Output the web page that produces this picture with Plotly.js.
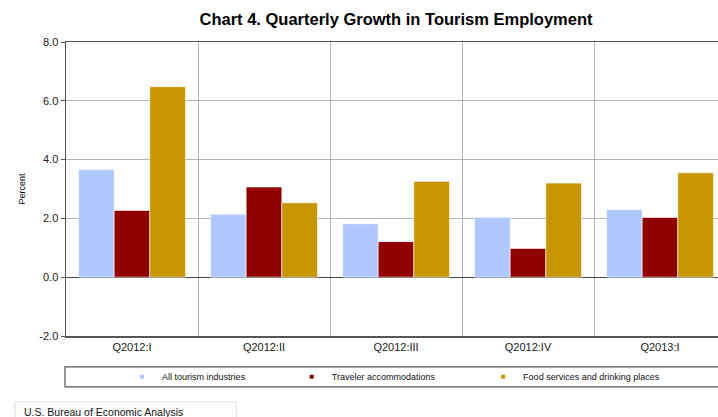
<!DOCTYPE html>
<html>
<head>
<meta charset="utf-8">
<script src="https://cdn.plot.ly/plotly-3.0.1.min.js"></script>
<style>
html,body{margin:0;padding:0;overflow:hidden;background:#fff;width:718px;height:417px;}
#chart{width:726px;height:417px;}
</style>
</head>
<body>
<div id="chart"></div>
<script>
const quarters = ["Q2012:I", "Q2012:II", "Q2012:III", "Q2012:IV", "Q2013:I"];
const seriesNames = ["All tourism industries", "Traveler accommodations", "Food services and drinking places"];
const allTourism = [3.66, 2.14, 1.82, 2.04, 2.30];
const travelerAccom = [2.27, 3.07, 1.21, 0.98, 2.03];
const foodServices = [6.48, 2.53, 3.26, 3.20, 3.55];
const colors = ["#b0c8ff", "#900000", "#c89400"];
const yTicks = [-2, 0, 2, 4, 6, 8];

const values = [allTourism, travelerAccom, foodServices];
const legendIds = ["legend", "legend2", "legend3"];
const traces = [];
values.forEach((v, i) => {
  traces.push({
    type: "bar", x: quarters, y: v, name: seriesNames[i],
    marker: {color: colors[i], line: {color: "rgba(255,255,255,0.6)", width: 1}},
    showlegend: false, hoverinfo: "x+y"
  });
});
values.forEach((v, i) => {
  traces.push({
    type: "scatter", mode: "markers", x: [null], y: [null], name: seriesNames[i],
    marker: {color: colors[i], symbol: "square", size: 4}, showlegend: true,
    legend: legendIds[i]
  });
});

const legendFont = {size: 9, family: "Liberation Sans, Arial, sans-serif", color: "#111"};
function mkLegend(x) {
  return {
    orientation: "h", x: x, xanchor: "left", y: -0.139, yanchor: "middle",
    font: legendFont, bgcolor: "rgba(0,0,0,0)", borderwidth: 0,
    itemclick: false, itemdoubleclick: false
  };
}

const layout = {
  width: 726, height: 417,
  margin: {l: 66, r: 0, t: 42, b: 81},
  paper_bgcolor: "#fff", plot_bgcolor: "#fff",
  font: {family: "Liberation Sans, Arial, sans-serif", color: "#222"},
  title: {
    text: "<b>Chart 4. Quarterly Growth in Tourism Employment</b>",
    font: {size: 16.5, color: "#000", family: "Liberation Sans, Arial, sans-serif"},
    x: 0.5, xref: "paper", y: 0.954, yanchor: "middle"
  },
  barmode: "group", bargap: 0.19, bargroupgap: 0,
  xaxis: {
    type: "category", tickson: "boundaries", showgrid: true, gridcolor: "#b4b4b4", gridwidth: 1,
    showline: true, linecolor: "#555", linewidth: 1.5, mirror: true,
    ticks: "", tickfont: {size: 11, color: "#222"}, fixedrange: true
  },
  yaxis: {
    range: [-2, 8], tickvals: yTicks, ticktext: yTicks.map(t => t.toFixed(1)),
    showgrid: true, gridcolor: "#b4b4b4", gridwidth: 1,
    zeroline: true, zerolinecolor: "#444", zerolinewidth: 1,
    showline: true, linecolor: "#555", linewidth: 1.5,
    ticks: "outside", ticklen: 4, tickcolor: "#555",
    tickfont: {size: 11, color: "#222"},
    title: {text: "Percent", font: {size: 9, color: "#000"}, standoff: 12},
    fixedrange: true
  },
  legend: mkLegend(0.085),
  legend2: mkLegend(0.342),
  legend3: mkLegend(0.632),
  shapes: [
    {type: "rect", xref: "paper", yref: "paper", x0: -0.0015, x1: 1.05, y0: -0.173, y1: -0.105,
     line: {color: "#555", width: 1.2}, fillcolor: "rgba(0,0,0,0)"},
    {type: "rect", xref: "paper", yref: "paper", x0: -0.077, x1: 0.258, y0: -0.3, y1: -0.224,
     line: {color: "#ddd", width: 1}, fillcolor: "rgba(0,0,0,0)"}
  ],
  annotations: [
    {text: "U.S. Bureau of Economic Analysis", xref: "paper", yref: "paper",
     x: -0.066, y: -0.258, xanchor: "left", yanchor: "middle", showarrow: false,
     font: {size: 10.5, color: "#111", family: "Liberation Sans, Arial, sans-serif"}}
  ]
};

Plotly.newPlot("chart", traces, layout, {displayModeBar: false, staticPlot: true});
</script>
</body>
</html>
